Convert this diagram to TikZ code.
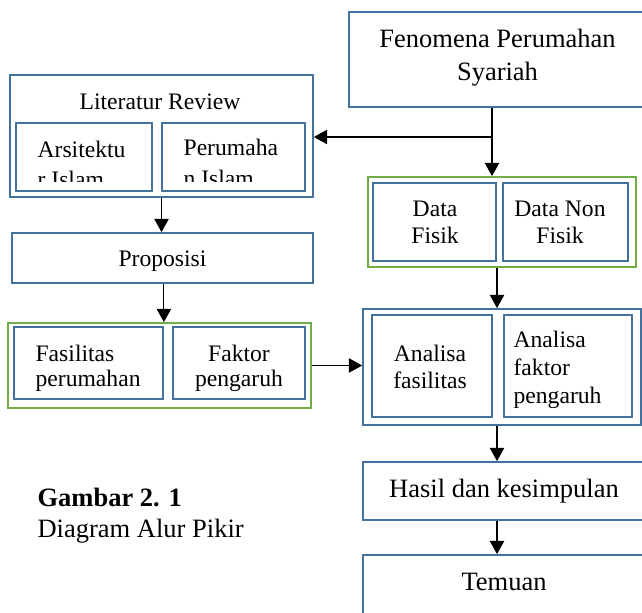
\documentclass[tikz,border=0pt]{standalone}
\usepackage{fontspec}
\setmainfont{Liberation Serif}
\usepackage{tikz}
\usetikzlibrary{arrows.meta}
\definecolor{frame}{HTML}{41719C}
\definecolor{group}{HTML}{70AD47}

\begin{document}
\begin{tikzpicture}[x=0.4528pt,y=-0.4528pt,line width=0.55pt,
    >={Triangle[length=6pt,width=6.5pt]},
    box/.style 2 args={draw=frame,line width=0.8pt,inner sep=0pt,
      minimum width=#1*0.4528pt,minimum height=#2*0.4528pt},
    gbox/.style 2 args={box={#1}{#2},draw=group},
    txt/.style={inner sep=0pt,anchor=base,align=center,font=\fontsize{10.7}{#1}\selectfont},
    txt/.default=13pt,
    big/.style={font=\fontsize{12}{#1}\selectfont},
    big/.default=14pt]
        \useasboundingbox (0,0) rectangle (642,612);
        \clip (0,0) rectangle (642,612);

        \path
        (497.5,59.5) node[box={297}{95}](fen) {}
        (161.5,136) node[box={303}{122}](lit) {}
        (84,157) node[box={136}{68}](ars) {}
        (233.5,157) node[box={143}{68}](per) {}
        (162.5,258) node[box={301}{50}](pro) {}
        (159.5,365.5) node[gbox={303}{85}](teori) {}
        (88.5,363) node[box={149}{72}](fas) {}
        (239,363) node[box={132}{72}](fak) {}
        (502,222) node[gbox={268}{90}](data) {}
        (434.5,222) node[box={123}{78}](dfis) {}
        (565.5,222) node[box={125}{78}](dnon) {}
        (502,367) node[box={278}{116}](ana) {}
        (432,366) node[box={120}{102}](afas) {}
        (568,366) node[box={128}{102}](afak) {}
        (504,491) node[box={282}{58}](has) {}
        (504,602.5) node[box={282}{95}](tem) {}
        ;

        \path
        (497.5,80) node[txt,big=14.9pt](fent) {Fenomena Perumahan\\Syariah}
        (160,109) node[txt](litt) {Literatur Review}
        (162.5,266) node[txt](prot) {Proposisi}
        (435,243) node[txt=11.8pt](dfist) {Data\\Fisik}
        (560,243) node[txt=11.8pt](dnont) {Data Non\\Fisik}
        (430,388) node[txt=11.8pt](afast) {Analisa\\fasilitas}
        (504,497) node[txt,big](hast) {Hasil dan kesimpulan}
        (504,590) node[txt,big](temt) {Temuan}
        (37,537) node[txt,big,anchor=base west,align=left](cap) {\textbf{Gambar 2. 1}\\Diagram Alur Pikir}
        ;

        \begin{scope}
          \clip (ars.north west) rectangle ([yshift=4.5pt]ars.south east);
          \path (37,187.3) node[txt=13.6pt,anchor=base west,align=left](arst) {Arsitektu\\r Islam};
        \end{scope}
        \begin{scope}
          \clip (per.north west) rectangle ([yshift=4.5pt]per.south east);
          \path (183,186.6) node[txt=14.3pt,anchor=base west,align=left](pert) {Perumaha\\n Islam};
        \end{scope}
        \begin{scope}
          \clip (fas.north west) rectangle ([yshift=3pt]fas.south east);
          \path (35,386) node[txt=11.3pt,anchor=base west,align=left](fast) {Fasilitas\\perumahan};
        \end{scope}
        \begin{scope}
          \clip (fak.north west) rectangle ([yshift=3pt]fak.south east);
          \path (239,386) node[txt=11.3pt](fakt) {Faktor\\pengaruh};
        \end{scope}
        \begin{scope}
          \clip (afak.north west) rectangle ([yshift=4.5pt]afak.south east);
          \path (513,403) node[txt=12.5pt,anchor=base west,align=left](afakt) {Analisa\\faktor\\pengaruh};
        \end{scope}

        \coordinate (split) at (492,137);
        \coordinate (axis) at (497,0);
        \draw (fen.south -| split) -- (split);
        \draw[->] (split) -- (data.north -| split);
        \draw[->] (split) -- (lit.east |- split);
        \draw[->] (lit.south) -- (lit.south |- pro.north);
        \draw[->] (pro.south -| fas.east) -- (teori.north -| fas.east);
        \draw[->] (teori.east) -- (ana.west |- teori.east);
        \draw[->] (data.south -| axis) -- (ana.north -| axis);
        \draw[->] (ana.south -| axis) -- (has.north -| axis);
        \draw[->] (has.south -| axis) -- (tem.north -| axis);
      \end{tikzpicture}
\end{document}
